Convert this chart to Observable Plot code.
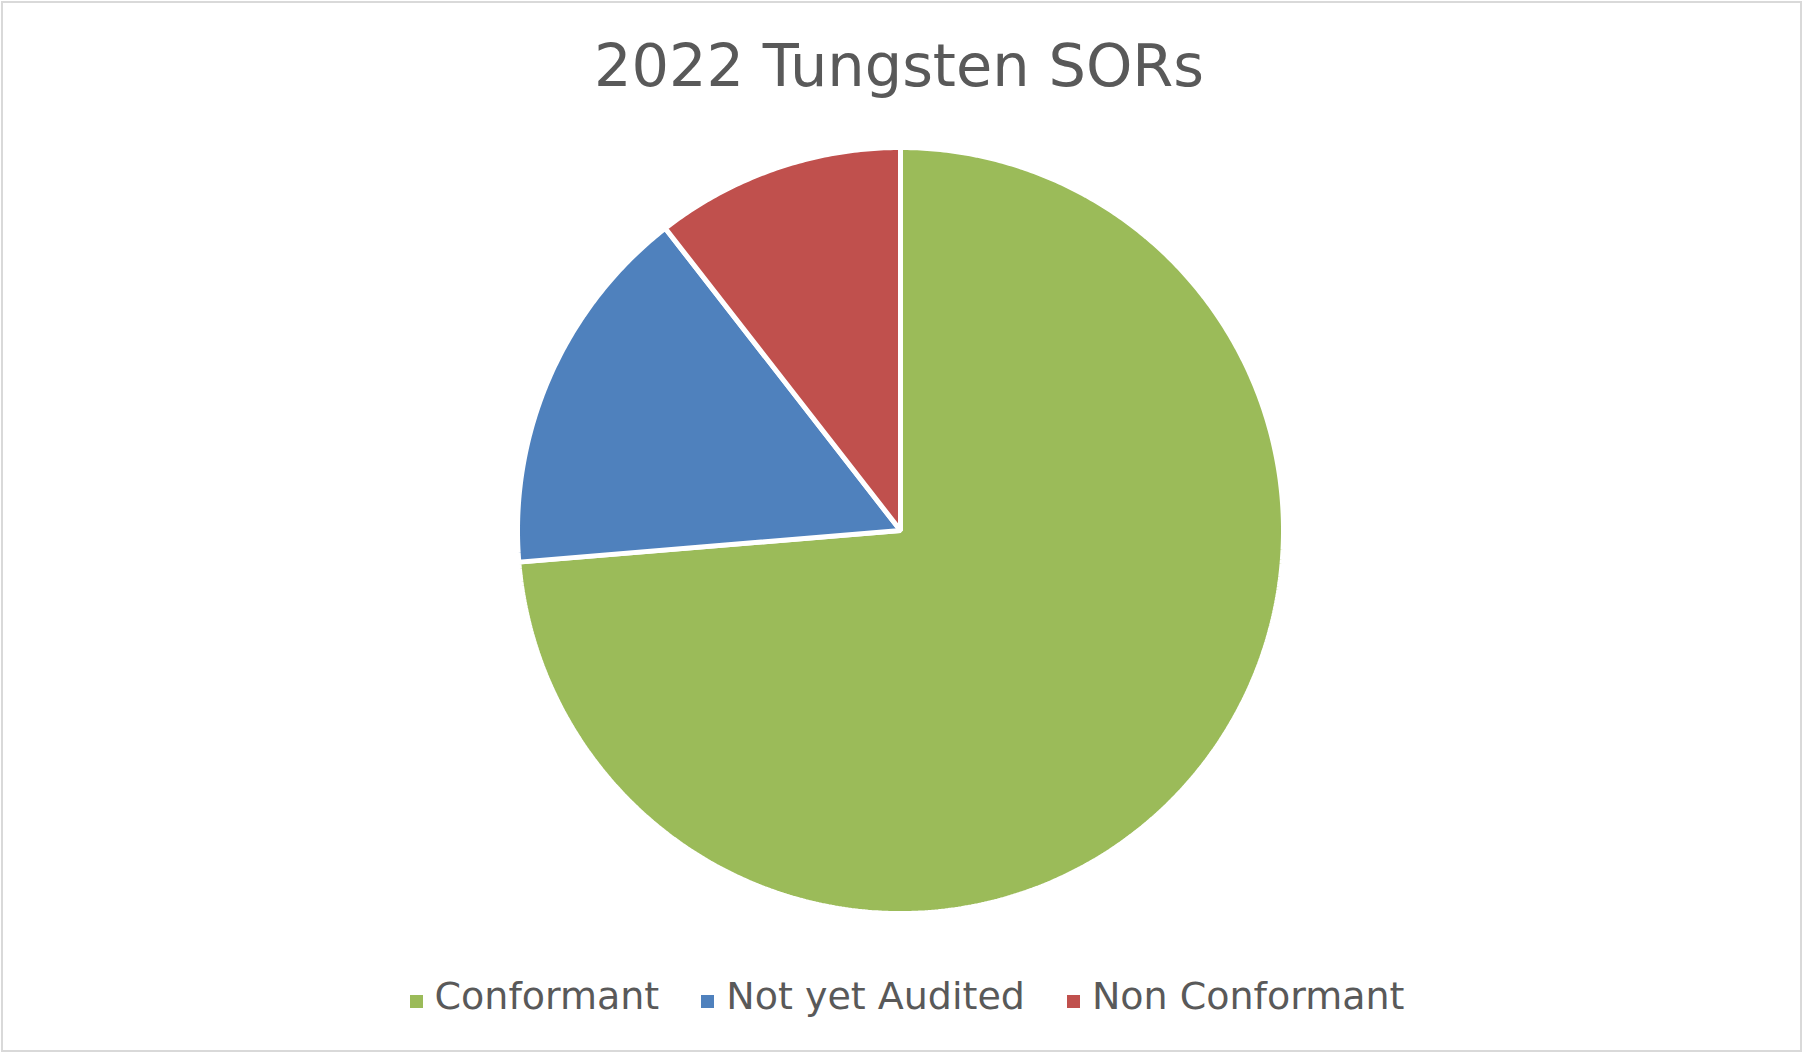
<!DOCTYPE html>
<html>
<head>
<meta charset="utf-8">
<script src="https://cdn.jsdelivr.net/npm/d3@7"></script>
<script src="https://cdn.jsdelivr.net/npm/@observablehq/plot@0.6"></script>
<style>
  html, body { margin: 0; padding: 0; background: #fff; }
  #frame { position: relative; width: 1804px; height: 1054px; overflow: hidden; font-family: "DejaVu Sans", sans-serif; color: #595959; }
  #border { position: absolute; left: 1px; top: 1px; width: 1801px; height: 1051px; box-sizing: border-box; border: 2px solid #d9d9d9; pointer-events: none; }
  #title { position: absolute; left: 0; width: 1804px; top: 36px; text-align: center; font-size: 59px; line-height: 1; white-space: nowrap; padding-right: 6px; box-sizing: border-box; }
  #chart { position: absolute; left: 0; top: 130px; }
  #legend { position: absolute; left: 0; width: 1804px; top: 977px; display: flex; justify-content: center; font-size: 38px; line-height: 1; white-space: nowrap; padding-left: 10px; box-sizing: border-box; }
  .item { display: flex; align-items: baseline; margin: 0 21px; }
  .sw { display: inline-block; width: 13px; height: 13px; margin-right: 12px; position: relative; top: -1px; }
</style>
</head>
<body>
<div id="frame">
  <div id="title">2022 Tungsten SORs</div>
  <div id="chart"></div>
  <div id="legend"></div>
  <div id="border"></div>
</div>
<script>
// Data
const categories = ["Conformant", "Not yet Audited", "Non Conformant"];
const values = [14, 3, 2];
const colors = ["#9BBB59", "#4F81BD", "#C0504D"];

// Build slice outlines from the pie layout (angles clockwise from 12 o'clock)
const table = categories.map((name, i) => ({name, value: values[i]}));
const arcs = d3.pie().sort(null).value(d => d.value)(table);
const pts = [];
for (const a of arcs) {
  const name = a.data.name;
  pts.push({name, x: 0, y: 0});
  const n = Math.max(2, Math.ceil((a.endAngle - a.startAngle) / (Math.PI / 360)));
  for (let k = 0; k <= n; k++) {
    const t = a.startAngle + (a.endAngle - a.startAngle) * k / n;
    pts.push({name, x: Math.sin(t), y: Math.cos(t)});
  }
}

const R = 383, H = 800, W = 1804, CX = 900;
const chart = Plot.plot({
  width: W,
  height: H,
  marginTop: H / 2 - R,
  marginBottom: H / 2 - R,
  marginLeft: CX - R,
  marginRight: W - CX - R,
  x: {domain: [-1, 1], axis: null},
  y: {domain: [-1, 1], axis: null},
  color: {domain: categories, range: colors},
  style: {background: "transparent"},
  marks: [
    Plot.line(pts, {x: "x", y: "y", z: "name", fill: "name", stroke: "white", strokeWidth: 5, strokeLinejoin: "miter", curve: "linear-closed"})
  ]
});
document.getElementById("chart").appendChild(chart);

const legend = document.getElementById("legend");
categories.forEach((c, i) => {
  const it = document.createElement("div");
  it.className = "item";
  const sw = document.createElement("span");
  sw.className = "sw";
  sw.style.background = colors[i];
  const tx = document.createElement("span");
  tx.textContent = c;
  it.appendChild(sw);
  it.appendChild(tx);
  legend.appendChild(it);
});
</script>
</body>
</html>
